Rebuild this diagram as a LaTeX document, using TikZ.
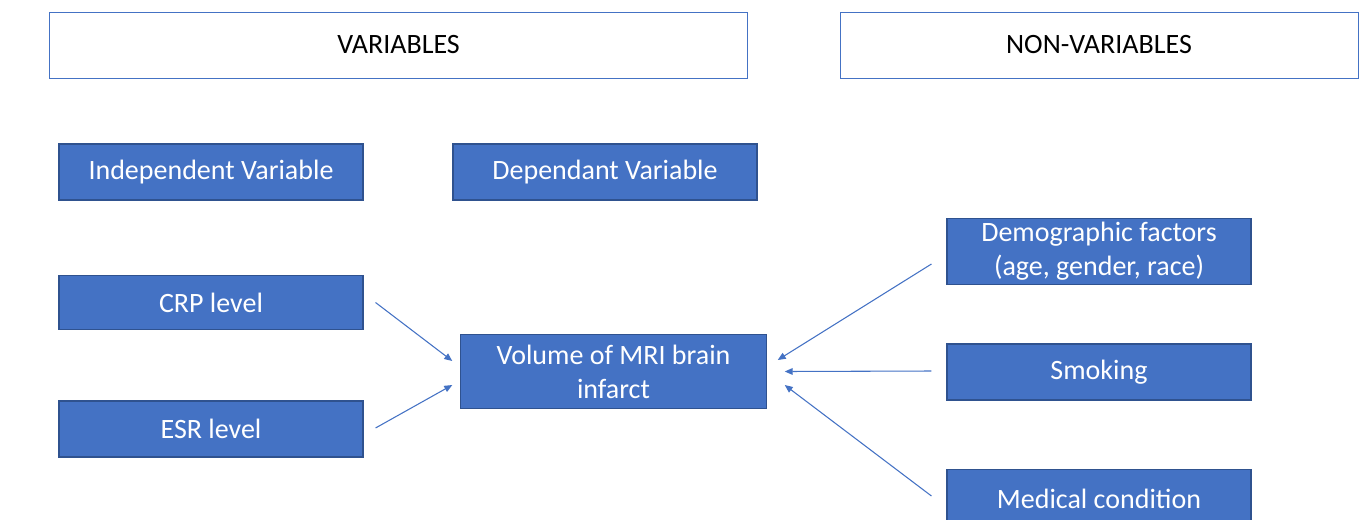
\documentclass[tikz,border=0pt]{standalone}
\usepackage{fontspec}
\setmainfont{Carlito}
\usepackage{tikz}
\usetikzlibrary{
    positioning,
    arrows.meta,
    calc
}
\definecolor{boxBlue}{HTML}{4472C4}
\definecolor{edgeBlue}{HTML}{2F528F}

\tikzset{
    headbox/.style={draw=boxBlue, fill=white, line width=0.6pt, inner sep=0pt,
        font=\fontsize{21}{25.5}\selectfont, text=black},
    varbox/.style={draw=edgeBlue, fill=boxBlue, line width=0.8pt, inner sep=0pt,
        minimum width=228pt, align=center, text=white,
        font=\fontsize{21}{25.5}\selectfont},
    arr/.style={-{Triangle[length=6pt, width=5pt]}, boxBlue, line width=0.8pt}
}

\begin{document}
\begin{tikzpicture}[x=0.75pt, y=-0.75pt]
            \useasboundingbox (0,0) rectangle (1365,519);
            % headers
            \node[headbox, minimum width=524pt, minimum height=49.5pt] (vars) at (398.5,45) {VARIABLES};
            \node[headbox, minimum width=388.5pt, minimum height=49.5pt] (nonvars) at (1099,45) {NON-VARIABLES};
            % variables
            \node[varbox, minimum height=42pt] (indep) at (211,172) {Independent Variable};
            \node[varbox, minimum height=42pt] (dep) at (605,172) {Dependant Variable};
            \node[varbox, minimum height=41pt] (crp) at (211,302.5) {CRP level};
            \node[varbox, minimum height=42pt] (esr) at (211,429) {ESR level};
            \node[varbox, minimum width=229pt, minimum height=56pt] (vol) at (613.5,371.5) {Volume of MRI brain\\infarct};
            % non-variables
            \node[varbox, minimum height=50pt] (demo) at (1099,251.5) {Demographic factors\\(age, gender, race)};
            \node[varbox, minimum height=42pt] (smoke) at (1099,372) {Smoking};
            \node[varbox, minimum height=44pt] (med) at (1099,499) {Medical condition};
            % arrows
            \draw[arr] ($(crp.east)+(12,0)$) -- ($(vol.west)+(-8,-10.5)$);
            \draw[arr] ($(esr.east)+(12,-1)$) -- ($(vol.west)+(-8,13.5)$);
            \draw[arr] ($(demo.west)+(-15,12.5)$) -- ($(vol.east)+(11,-11.5)$);
            \draw[arr] ($(smoke.west)+(-15,-1)$) -- ($(vol.east)+(18,0)$);
            \draw[arr] ($(med.west)+(-15,-3)$) -- ($(vol.east)+(18,13.5)$);
        \end{tikzpicture}
\end{document}
